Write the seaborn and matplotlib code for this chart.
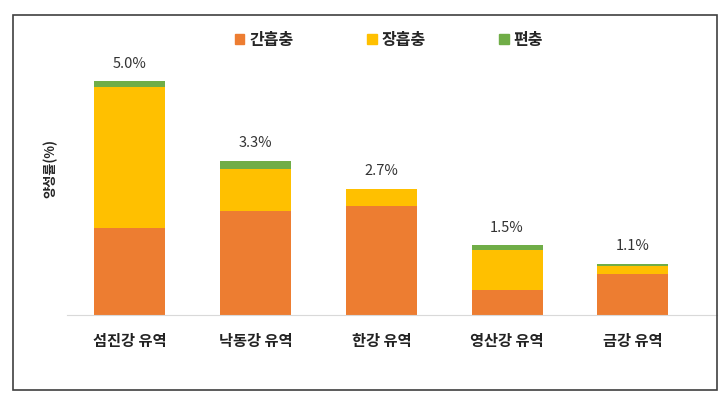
import matplotlib
matplotlib.use("Agg")
import matplotlib.pyplot as plt
import matplotlib.patches as mpatches
import seaborn as sns
import pandas as pd

# 유역별 양성률 (%)
유역 = ['섬진강 유역', '낙동강 유역', '한강 유역', '영산강 유역', '금강 유역']
간흡충 = [1.86, 2.22, 2.34, 0.53, 0.88]
장흡충 = [3.01, 0.90, 0.36, 0.86, 0.17]
편충 = [0.13, 0.18, 0.00, 0.11, 0.05]
합계 = ['5.0%', '3.3%', '2.7%', '1.5%', '1.1%']

colors = {'간흡충': '#ED7D31', '장흡충': '#FFC000', '편충': '#70AD47'}

df = pd.DataFrame({'유역': 유역, '간흡충': 간흡충, '장흡충': 장흡충, '편충': 편충})

sns.set_style("white")
plt.rcParams['font.family'] = ['Noto Sans CJK KR', 'DejaVu Sans']

fig = plt.figure(figsize=(7.27, 3.99), dpi=100)
ax = fig.add_axes([67 / 727, 84 / 399, 650 / 727, 255 / 399])

bottom = [0.0] * len(df)
for name in ['간흡충', '장흡충', '편충']:
    sns.barplot(x='유역', y=name, data=df, color=colors[name], width=0.565,
                bottom=bottom, ax=ax, saturation=1, linewidth=0)
    bottom = [b + v for b, v in zip(bottom, df[name])]

for i, (tot, lab) in enumerate(zip(bottom, 합계)):
    ax.text(i, tot + 0.22, lab, ha='center', va='bottom', fontsize=10.5,
            color='#333333')

ax.set_xlim(-0.5, 4.67)
ax.set_ylim(0, 5.45)
ax.set_yticks([])
ax.set_xlabel('')
ax.set_ylabel('양성률(%)', fontsize=9.5, fontweight='bold')
ax.yaxis.set_label_coords(-0.015, 0.576)
for s in ['top', 'right', 'left']:
    ax.spines[s].set_visible(False)
ax.spines['bottom'].set_color('#d9d9d9')
ax.tick_params(axis='x', length=0, pad=13)
for t in ax.get_xticklabels():
    t.set_fontsize(11)
    t.set_fontweight('bold')
    t.set_color('#222222')

handles = [mpatches.Patch(color=c, label=k) for k, c in colors.items()]
leg = fig.legend(handles=handles, loc='center', bbox_to_anchor=(0.535, 0.9),
                 ncol=3, frameon=False, handlelength=0.6, handleheight=0.6,
                 handletextpad=0.3, columnspacing=4.6,
                 prop={'weight': 'bold', 'size': 11.5})

fig.patches.append(mpatches.Rectangle((13 / 727, 9 / 399), 704 / 727, 375 / 399,
                                      transform=fig.transFigure, fill=False,
                                      edgecolor='#404040', linewidth=1.2))

fig.savefig('out.png', dpi=100)
